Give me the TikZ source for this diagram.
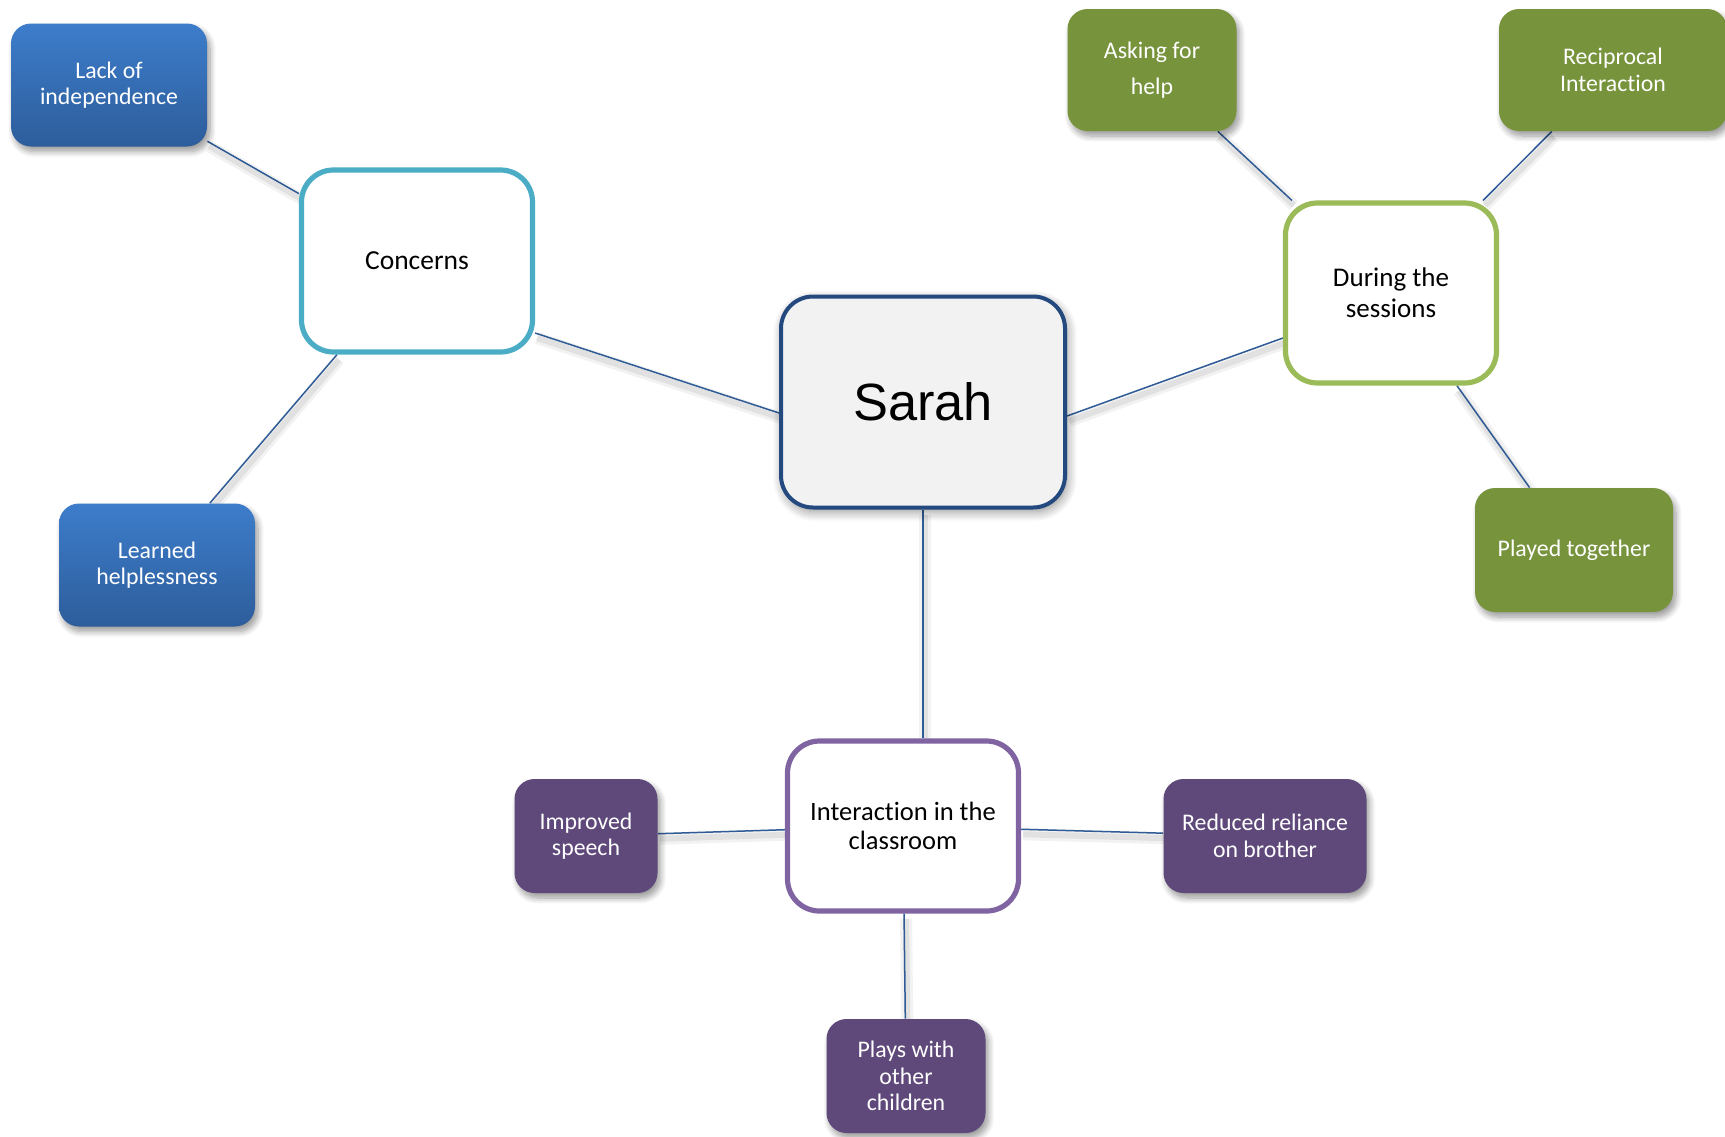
\documentclass[tikz,border=0pt]{standalone}
\usepackage{fontspec}
\setmainfont{Carlito}[Ligatures=NoCommon]
\newfontfamily\arialfont{Liberation Sans}
\usetikzlibrary{shadows.blur,backgrounds}

\definecolor{blueTop}{HTML}{3D7DCB}
\definecolor{blueBot}{HTML}{2D5D9B}
\definecolor{leafGreen}{HTML}{77933C}
\definecolor{leafPurple}{HTML}{5F497A}
\definecolor{hubCyan}{HTML}{4BACC6}
\definecolor{hubLime}{HTML}{9BBB59}
\definecolor{hubViolet}{HTML}{8064A2}
\definecolor{hubNavy}{HTML}{23497F}
\definecolor{hubFill}{HTML}{F2F2F2}
\definecolor{linkBlue}{HTML}{2F5C96}

\begin{document}
\begin{tikzpicture}[x=0.5pt,y=-0.5pt,
  leaf/.style={rectangle, rounded corners=10pt, draw=none, inner sep=0pt,
    align=center, text=white, font=\fontsize{11.9}{13.2}\selectfont,
    blur shadow={shadow xshift=1.5pt, shadow yshift=-2.5pt,
      shadow blur steps=8, shadow blur radius=3pt, shadow opacity=40}},
  blueleaf/.style={leaf, top color=blueTop, bottom color=blueBot},
  greenleaf/.style={leaf, fill=leafGreen},
  purpleleaf/.style={leaf, fill=leafPurple},
  hub/.style={rectangle, rounded corners=16pt, fill=white, line width=2.6pt,
    inner sep=0pt, align=center, text=black},
  link/.style={draw=linkBlue, line width=0.75pt,
    preaction={draw=black, draw opacity=0.05, line width=6pt,
      transform canvas={xshift=1pt, yshift=-2.5pt}},
    preaction={draw=black, draw opacity=0.07, line width=3pt,
      transform canvas={xshift=1pt, yshift=-2.5pt}}},
]
\useasboundingbox (0,0) rectangle (1725,1136);

% centre
\node[hub, draw=hubNavy, fill=hubFill, line width=2pt,
      minimum width=142pt, minimum height=105.5pt,
      font=\arialfont\fontsize{26.2}{30}\selectfont,
      blur shadow={shadow xshift=1pt, shadow yshift=-2pt,
        shadow blur steps=10, shadow blur radius=5pt, shadow opacity=45}]
  (sarah) at (923,402) {Sarah};

% first ring
\node[hub, draw=hubCyan, minimum width=115.5pt, minimum height=91pt,
      font=\fontsize{13.75}{16}\selectfont]
  (concerns) at (417,261) {Concerns};
\node[hub, draw=hubLime, minimum width=105.5pt, minimum height=90pt,
      font=\fontsize{13.5}{15.4}\selectfont]
  (during) at (1391,293) {During the\\sessions};
\node[hub, draw=hubViolet, minimum width=115.5pt, minimum height=85pt,
      font=\fontsize{13.25}{14.3}\selectfont]
  (classroom) at (903,826) {Interaction in the\\classroom};

% concerns
\node[blueleaf, minimum width=98pt, minimum height=61.5pt]
  (lack) at (109,85) {Lack of\\independence};
\node[blueleaf, minimum width=98pt, minimum height=61.5pt]
  (learned) at (157,565) {Learned\\helplessness};

% sessions
\node[greenleaf, minimum width=84.5pt, minimum height=61pt,
      font=\fontsize{11.9}{18}\selectfont]
  (asking) at (1152,70) {Asking for\\help};
\node[greenleaf, minimum width=114pt, minimum height=61pt]
  (recip) at (1613,70) {Reciprocal\\Interaction};
\node[greenleaf, minimum width=99pt, minimum height=62pt]
  (played) at (1574,550) {Played together};

% classroom
\node[purpleleaf, minimum width=71.5pt, minimum height=57pt]
  (speech) at (586,836) {Improved\\speech};
\node[purpleleaf, minimum width=101.5pt, minimum height=57pt]
  (brother) at (1265,836) {Reduced reliance\\on brother};
\node[purpleleaf, minimum width=79.5pt, minimum height=57pt]
  (plays) at (906,1076) {Plays with\\other\\children};

% connectors
\begin{pgfonlayer}{background}
  \draw[link] ([yshift=-36pt]concerns.east) -- ([yshift=-5.5pt]sarah.west);
  \draw[link] ([yshift=-7pt]sarah.east) -- ([yshift=-22.5pt]during.west);
  \draw[link, line width=1pt] (sarah.south) -- (sarah.south |- classroom.north);
  \draw[link] (lack) -- (concerns);
  \draw[link] (concerns) -- (learned);
  \draw[link] (asking) -- (during);
  \draw[link] (recip) -- (during);
  \draw[link] (during) -- (played);
  \draw[link] (speech) -- (classroom);
  \draw[link] (classroom) -- (brother);
  \draw[link] (classroom) -- (plays);
\end{pgfonlayer}
\end{tikzpicture}
\end{document}
